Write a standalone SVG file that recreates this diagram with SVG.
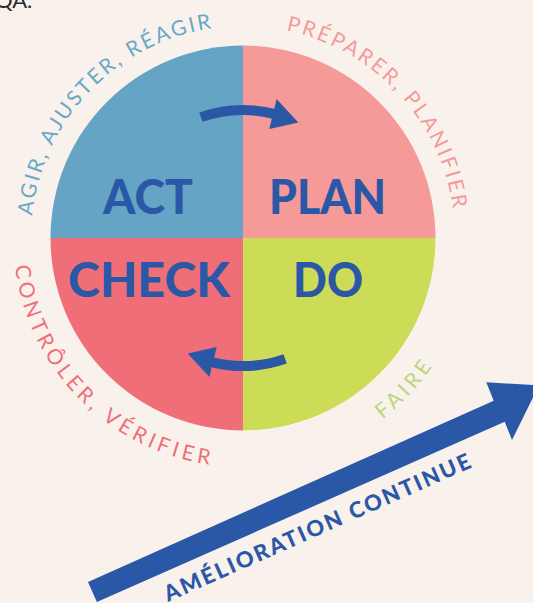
<svg xmlns="http://www.w3.org/2000/svg" xmlns:xlink="http://www.w3.org/1999/xlink" width="533" height="603" viewBox="0 0 533 603">
  <style>
    .label { font-family: Lato, "Liberation Sans", sans-serif; font-weight: 900; font-size: 47px; fill: #2b58a6; text-anchor: middle; }
    .ring { font-family: Lato, "Liberation Sans", sans-serif; font-weight: 400; font-size: 21px; }
    .ring-top { letter-spacing: 2.5px; }
    .ring-bottom { letter-spacing: 4.2px; }
    .cycle { fill: none; stroke: #2b58a6; stroke-width: 10; }
  </style>
  <defs>
    <!-- baselines for the words printed around the wheel -->
    <path id="arc-act" d="M32.2,215.8 A212,212 0 0 1 243,26"/>
    <path id="arc-plan" d="M286,30.4 A212,212 0 0 1 455,238"/>
    <path id="arc-check" d="M15,266 A229,229 0 0 0 243,467"/>
    <path id="arc-do" d="M382.5,419.4 A229,229 0 0 0 472,238"/>
    <!-- curved cycle arrow, reused for the lower half by rotation -->
    <g id="cycle-arrow">
      <path class="cycle" d="M200.9,117.1 A128,128 0 0 1 276.1,114.4"/>
      <polygon fill="#2b58a6" points="276.6,99 298.3,122.6 269.3,129.1"/>
    </g>
  </defs>

  <rect width="533" height="603" fill="#f9f2ec"/>

  <text x="-5" y="8" font-family="Lato, 'Liberation Sans', sans-serif" font-size="22" fill="#2a2a2a">QA.</text>

  <g id="act">
    <path d="M243,238 L50.5,238 A192.5,192.5 0 0 1 243,45.5 Z" fill="#65a4c4"/>
    <text class="label" x="148" y="214" textLength="90" lengthAdjust="spacingAndGlyphs">ACT</text>
    <text class="ring ring-top" fill="#6aa8c8"><textPath href="#arc-act" xlink:href="#arc-act">AGIR, AJUSTER, RÉAGIR</textPath></text>
  </g>

  <g id="plan">
    <path d="M243,238 L243,45.5 A192.5,192.5 0 0 1 435.5,238 Z" fill="#f59a98"/>
    <text class="label" x="327.5" y="214" textLength="117" lengthAdjust="spacingAndGlyphs">PLAN</text>
    <text class="ring ring-top" fill="#f59a98"><textPath href="#arc-plan" xlink:href="#arc-plan">PRÉPARER, PLANIFIER</textPath></text>
  </g>

  <g id="do">
    <path d="M243,238 L435.5,238 A192.5,192.5 0 0 1 243,430.5 Z" fill="#cddc56"/>
    <text class="label" x="328" y="297" textLength="70" lengthAdjust="spacingAndGlyphs">DO</text>
    <text class="ring ring-bottom" fill="#bdd57c"><textPath href="#arc-do" xlink:href="#arc-do">FAIRE</textPath></text>
  </g>

  <g id="check">
    <path d="M243,238 L243,430.5 A192.5,192.5 0 0 1 50.5,238 Z" fill="#f06e78"/>
    <text class="label" x="149" y="297" textLength="162" lengthAdjust="spacingAndGlyphs">CHECK</text>
    <text class="ring ring-bottom" fill="#f06e78"><textPath href="#arc-check" xlink:href="#arc-check">CONTRÔLER, VÉRIFIER</textPath></text>
  </g>

  <g id="connectors">
    <use href="#cycle-arrow" xlink:href="#cycle-arrow"/>
    <use href="#cycle-arrow" xlink:href="#cycle-arrow" transform="rotate(180 243 238)"/>
  </g>

  <g id="improvement">
    <polygon fill="#2b58a6" points="88,582 493.7,400.7 486.3,382.3 539,385.3 512,440 504.7,421.7 96.9,602.1"/>
    <text x="168" y="602" transform="rotate(-23.9 168 602)" textLength="333" lengthAdjust="spacing" font-family="Lato, 'Liberation Sans', sans-serif" font-weight="900" font-size="22" fill="#2b58a6">AMÉLIORATION CONTINUE</text>
  </g>
</svg>
